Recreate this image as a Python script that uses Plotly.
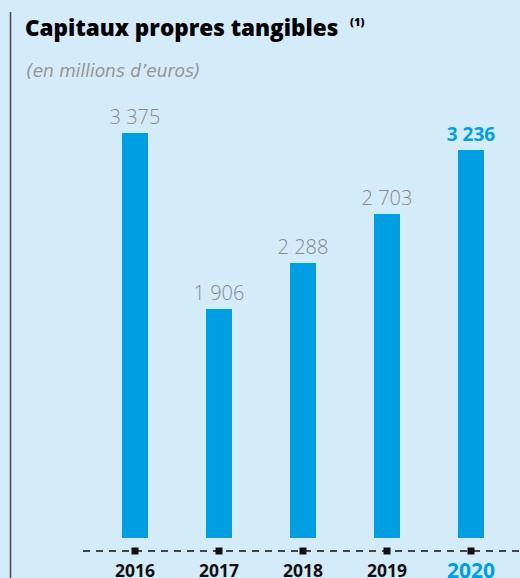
import plotly.graph_objects as go

# Tangible equity, in millions of euros
years = ["2016", "2017", "2018", "2019", "2020"]
values = [3375, 1906, 2288, 2703, 3236]

BG = "#d4ebfa"
BLUE = "#009fe3"
GREY = "#8a8a8a"

W, H = 520, 578
PX_PER_UNIT = 0.12      # vertical scale of the bars
ZERO_PX = 538           # pixel row of the zero line
CAT_PX = 84             # pixels between categories
FIRST_PX = 135          # pixel column of the first category

def fmt(v):
    return f"{v:,}".replace(",", " ")

idx = list(range(len(years)))
last = len(years) - 1
texts = [("<b>%s</b>" % fmt(v)) if i == last else fmt(v) for i, v in enumerate(values)]
text_colors = [BLUE if i == last else GREY for i in idx]
text_sizes = [19 if i == last else 20 for i in idx]

y_lo = -(H - ZERO_PX) / PX_PER_UNIT
y_hi = ZERO_PX / PX_PER_UNIT
x_lo = -FIRST_PX / CAT_PX
x_hi = x_lo + W / CAT_PX

baseline_y = -(551 - ZERO_PX) / PX_PER_UNIT

fig = go.Figure()
fig.add_trace(go.Bar(
    x=idx, y=values, width=26 / CAT_PX,
    marker=dict(color=BLUE, line=dict(width=0)),
    text=texts, textposition="outside", cliponaxis=False, constraintext="none",
    textfont=dict(family="Open Sans", size=text_sizes, color=text_colors, weight=300),
    hoverinfo="skip",
))
# small square ticks on the dashed baseline
fig.add_trace(go.Scatter(
    x=idx, y=[baseline_y] * len(idx), mode="markers",
    marker=dict(symbol="square", size=7, color="#111111"),
    cliponaxis=False, hoverinfo="skip",
))

shapes = [
    # dashed baseline
    dict(type="line", xref="paper", yref="y", x0=83 / W, x1=1, y0=baseline_y, y1=baseline_y,
         line=dict(color="#111111", width=1.5, dash="7px,6px"), layer="below"),
    # left rule
    dict(type="line", xref="paper", yref="paper", x0=10.5 / W, x1=10.5 / W, y0=0, y1=1 - 12 / H,
         line=dict(color="#4a4a4a", width=1.5)),
]

annotations = [
    dict(text="Capitaux propres tangibles", xref="paper", yref="paper",
         x=23 / W, y=1 - 10 / H, xanchor="left", yanchor="top", showarrow=False,
         font=dict(family="Open Sans", size=22.5, color="#000000", weight=800)),
    # footnote marker
    dict(text="(1)", xref="paper", yref="paper",
         x=348 / W, y=1 - 12 / H, xanchor="left", yanchor="top", showarrow=False,
         font=dict(family="Open Sans", size=11, color="#000000", weight=800)),
    dict(text="<i>(en millions d\u2019euros)</i>", xref="paper", yref="paper",
         x=24 / W, y=1 - 59 / H, xanchor="left", yanchor="top", showarrow=False,
         font=dict(family="DejaVu Sans", size=17, color="#959595", weight=200)),
]
for i, yr in enumerate(years):
    hl = i == last
    annotations.append(dict(
        text="<b>%s</b>" % yr, x=i, xref="x", yref="paper",
        y=1 - (554 if hl else 556) / H, yanchor="top", xanchor="center", showarrow=False,
        font=dict(family="Open Sans", size=21 if hl else 17.5, color=BLUE if hl else "#111111", weight=800),
    ))

fig.update_layout(
    width=W, height=H, margin=dict(l=0, r=0, t=0, b=0),
    paper_bgcolor=BG, plot_bgcolor=BG, showlegend=False,
    xaxis=dict(range=[x_lo, x_hi], visible=False, fixedrange=True),
    yaxis=dict(range=[y_lo, y_hi], visible=False, fixedrange=True),
    shapes=shapes, annotations=annotations, bargap=0,
)

fig.write_html("out.html", config={"displayModeBar": False})
